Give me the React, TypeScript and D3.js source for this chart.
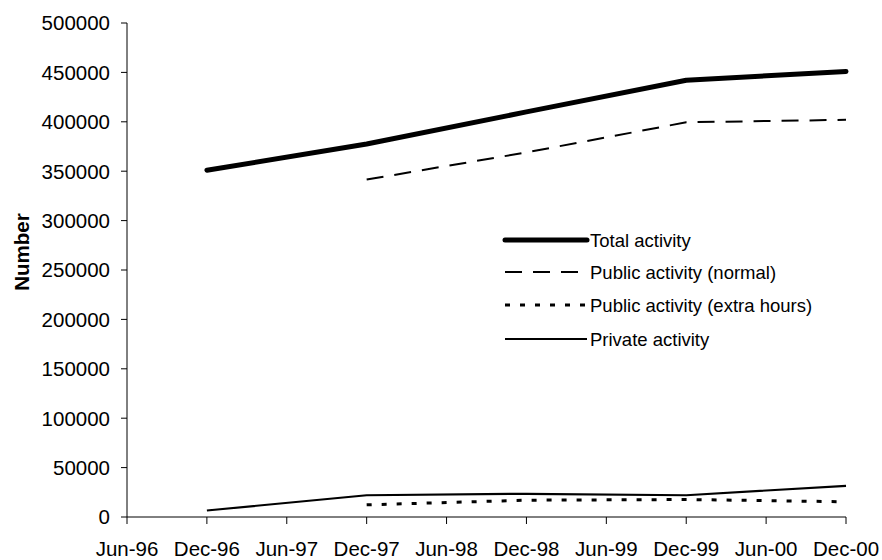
import React from "react";
import * as d3 from "d3";

const categories = ["Jun-96", "Dec-96", "Jun-97", "Dec-97", "Jun-98", "Dec-98", "Jun-99", "Dec-99", "Jun-00", "Dec-00"];
const pointDates = ["Dec-96", "Dec-97", "Dec-98", "Dec-99", "Dec-00"];
const totalActivity: (number | null)[] = [351000, 377500, 410000, 442000, 451000];
const publicNormal: (number | null)[] = [null, 341500, 369000, 399500, 402000];
const publicExtra: (number | null)[] = [null, 12300, 17000, 17700, 15400];
const privateActivity: (number | null)[] = [6600, 22000, 23500, 22000, 31600];
const yTicks = [0, 50000, 100000, 150000, 200000, 250000, 300000, 350000, 400000, 450000, 500000];
const seriesNames = ["Total activity", "Public activity (normal)", "Public activity (extra hours)", "Private activity"];

const W = 882;
const H = 560;
const FONT = "'Liberation Sans', Arial, sans-serif";

export default function App() {
  const x = d3.scalePoint<string>().domain(categories).range([127, 846]);
  const y = d3.scaleLinear().domain([0, 500000]).range([517, 23]);

  const styles = [
    { w: 5, dash: "", cap: "round" },
    { w: 2, dash: "17,11", cap: "butt" },
    { w: 3, dash: "5,10", cap: "butt" },
    { w: 2.2, dash: "", cap: "butt" },
  ];
  const data = [totalActivity, publicNormal, publicExtra, privateActivity];

  const line = d3
    .line<number | null>()
    .defined((d) => d !== null)
    .x((_, i) => x(pointDates[i]) as number)
    .y((d) => y(d as number));

  const legendX1 = 505;
  const legendX2 = 587;
  const legendY = [240, 272, 305, 339];

  return (
    <svg width={W} height={H} style={{ position: "absolute", left: 0, top: 0, background: "#fff" }} fontFamily={FONT}>
      <rect x={0} y={0} width={W} height={H} fill="#fff" />
      {/* Y axis */}
      <line x1={127} x2={127} y1={y(500000)} y2={y(0)} stroke="#000" strokeWidth={1} />
      {yTicks.map((t) => (
        <g key={t}>
          <line x1={121} x2={127} y1={y(t)} y2={y(t)} stroke="#000" strokeWidth={1} />
          <text x={110} y={y(t)} dy="0.36em" textAnchor="end" fontSize={20.5} fill="#000">
            {t}
          </text>
        </g>
      ))}
      {/* X axis */}
      <line x1={127} x2={846} y1={y(0)} y2={y(0)} stroke="#000" strokeWidth={1} />
      {categories.map((c) => (
        <g key={c}>
          <line x1={x(c)} x2={x(c)} y1={y(0)} y2={y(0) + 7} stroke="#000" strokeWidth={1} />
          <text x={x(c)} y={556} textAnchor="middle" fontSize={20.5} fill="#000">
            {c}
          </text>
        </g>
      ))}
      <text
        transform={`translate(29,252) rotate(-90)`}
        textAnchor="middle"
        fontSize={20.5}
        fontWeight="bold"
        fill="#000"
      >
        Number
      </text>
      {/* Series */}
      {data.map((d, i) => (
        <path
          key={i}
          d={line(d) || ""}
          fill="none"
          stroke="#000"
          strokeWidth={styles[i].w}
          strokeDasharray={styles[i].dash || undefined}
          strokeLinecap={styles[i].cap as any}
          strokeLinejoin="round"
        />
      ))}
      {/* Legend */}
      {seriesNames.map((n, i) => (
        <g key={n}>
          <line
            x1={legendX1}
            x2={legendX2}
            y1={legendY[i]}
            y2={legendY[i]}
            stroke="#000"
            strokeWidth={styles[i].w}
            strokeDasharray={styles[i].dash || undefined}
            strokeLinecap={styles[i].cap as any}
          />
          <text x={590} y={legendY[i]} dy="0.36em" fontSize={18.5} fill="#000">
            {n}
          </text>
        </g>
      ))}
    </svg>
  );
}
